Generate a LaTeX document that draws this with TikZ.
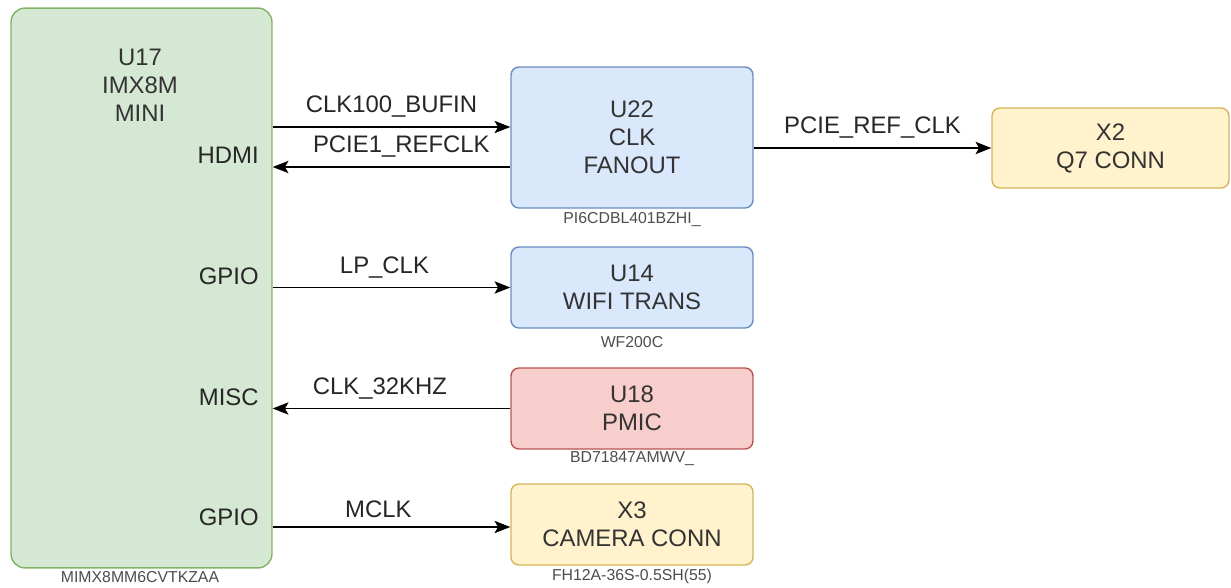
\documentclass[tikz,border=0pt]{standalone}
\usepackage{fontspec}
\setmainfont{Liberation Sans}
\usetikzlibrary{arrows.meta, positioning}
\usepackage{xcolor}

\definecolor{cpufill}{HTML}{D5E8D4}
\definecolor{cpuline}{HTML}{82B366}
\definecolor{icfill}{HTML}{DAE8FC}
\definecolor{icline}{HTML}{6C8EBF}
\definecolor{pmicfill}{HTML}{F8CECC}
\definecolor{pmicline}{HTML}{B85450}
\definecolor{connfill}{HTML}{FFF2CC}
\definecolor{connline}{HTML}{D6B656}

\newcommand{\mainfont}{\fontsize{13.6}{16}\selectfont}
\newcommand{\partfont}{\fontsize{9}{10}\selectfont}

\tikzset{
  blk/.style={draw, line width=0.8pt, rounded corners=4.5pt, align=center,
    font=\mainfont, text=black!80, inner sep=0pt, minimum width=4.84cm},
  cpublk/.style={blk, fill=cpufill, draw=cpuline, rounded corners=8pt},
  icblk/.style={blk, fill=icfill, draw=icline},
  pmicblk/.style={blk, fill=pmicfill, draw=pmicline},
  connblk/.style={blk, fill=connfill, draw=connline},
  partno/.style={font=\partfont, text=black!70, inner sep=0pt},
  pinlbl/.style={font=\mainfont, text=black!85, inner sep=0pt, anchor=east},
  sig/.style={line width=0.8pt, -{Stealth[length=9pt, width=7pt, inset=2pt]}},
  siglbl/.style={font=\mainfont, text=black!85, inner sep=0pt, midway, above=5pt}
}

\begin{document}
\begin{tikzpicture}[x=0.02cm, y=-0.02cm]
  \useasboundingbox (0,0) rectangle (1231,588);

  % blocks
  \node[cpublk, minimum width=5.22cm, minimum height=11.2cm] (u17) at (141.5,288) {};
  \node[font=\mainfont, text=black!80, align=center] (u17txt) at (140,85) {U17\\IMX8M\\MINI};
  \node[icblk, minimum height=2.82cm] (u22) at (632,137.5) {U22\\CLK\\FANOUT};
  \node[connblk, minimum width=4.74cm, minimum height=1.6cm] (x2) at (1110.5,148) {X2\\Q7 CONN};
  \node[icblk, minimum height=1.62cm] (u14) at (632,287.5) {U14\\WIFI TRANS};
  \node[pmicblk, minimum height=1.62cm] (u18) at (632,408.5) {U18\\PMIC};
  \node[connblk, minimum height=1.62cm] (x3) at (632,524.5) {X3\\CAMERA CONN};

  % part numbers
  \node[partno] (u17pn) at (140,577) {MIMX8MM6CVTKZAA};
  \node[partno] (u22pn) at (632,220) {PI6CDBL401BZHI\_};
  \node[partno] (u14pn) at (632,342) {WF200C};
  \node[partno] (u18pn) at (632,459) {BD71847AMWV\_};
  \node[partno] (x3pn) at (632,576) {FH12A-36S-0.5SH(55)};

  % interface names
  \node[pinlbl] (hdmi) at (259,155) {HDMI};
  \node[pinlbl] (gpioa) at (259,276) {GPIO};
  \node[pinlbl] (misc) at (259,397) {MISC};
  \node[pinlbl] (gpiob) at (259,517) {GPIO};

  % clock nets
  \draw[sig] (u17.east |- 0,127) -- (u22.west |- 0,127)
    node[siglbl] {CLK100\_BUFIN};
  \draw[sig] (u22.west |- 0,167) -- (u17.east |- 0,167)
    node[siglbl, xshift=5.6pt] {PCIE1\_REFCLK};
  \draw[sig] (u22.east |- 0,148) -- (x2.west |- 0,148)
    node[siglbl] {PCIE\_REF\_CLK};
  \draw[sig] (u17.east |- u14.west) -- (u14.west)
    node[siglbl, xshift=-4pt] {LP\_CLK};
  \draw[sig] (u18.west) -- (u17.east |- u18.west)
    node[siglbl, xshift=-6.6pt] {CLK\_32KHZ};
  \draw[sig] (u17.east |- 0,527) -- (x3.west |- 0,527)
    node[siglbl, xshift=-7.5pt] {MCLK};
\end{tikzpicture}
\end{document}
